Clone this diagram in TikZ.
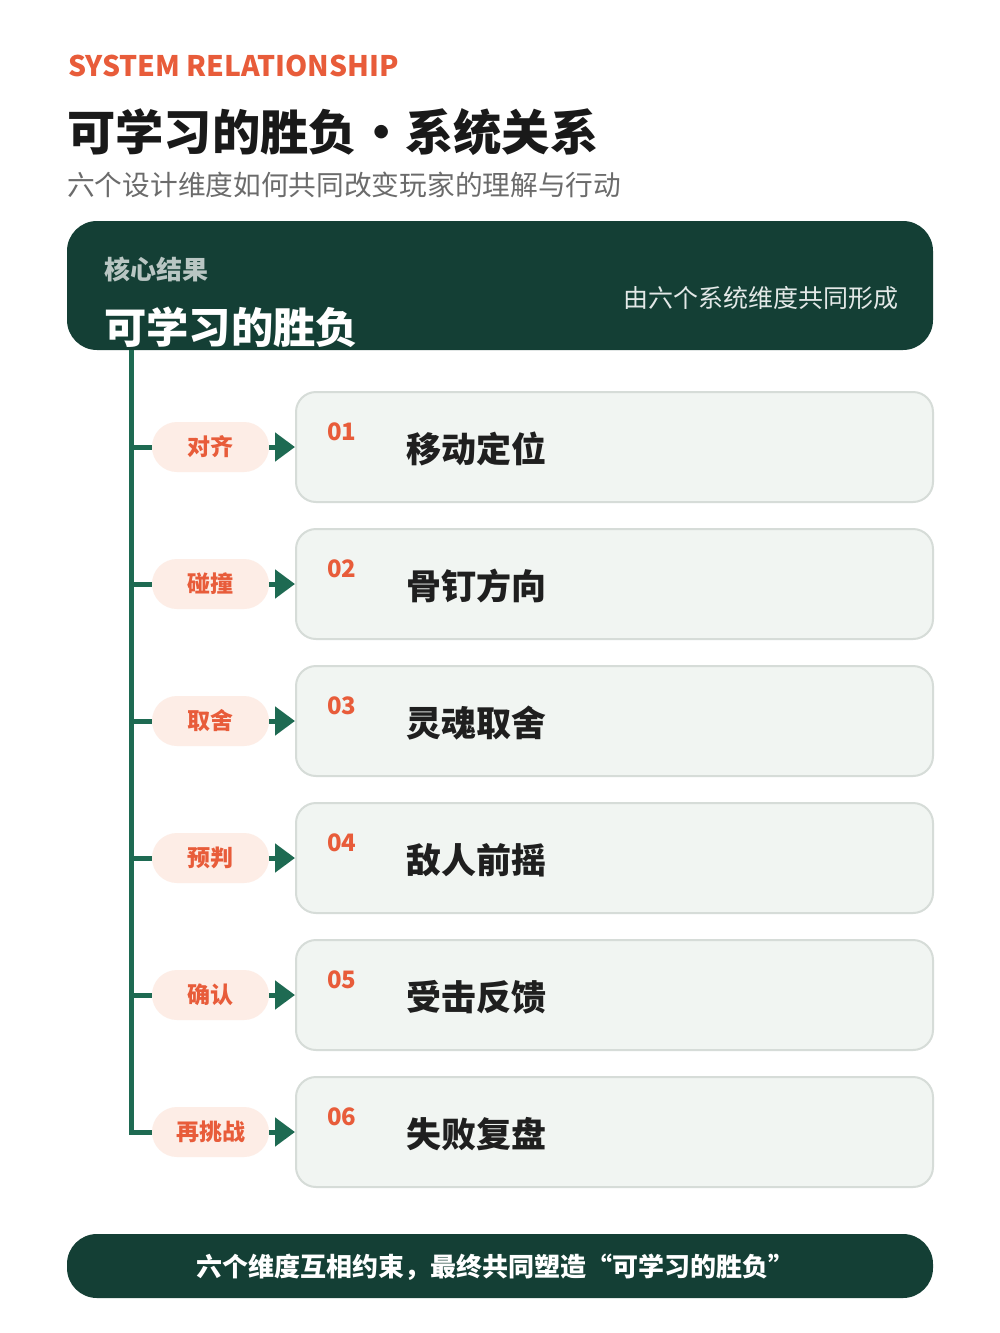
\documentclass[tikz,border=0pt]{standalone}
\usepackage{fontspec}
\setmainfont{Noto Sans CJK SC}
\usepackage{tikz}
\usetikzlibrary{arrows.meta}
\definecolor{tanne}{RGB}{20,63,53}
\definecolor{ast}{RGB}{30,106,82}
\definecolor{ziegel}{RGB}{232,92,58}
\definecolor{pfirsich}{RGB}{253,237,230}
\definecolor{karte}{RGB}{241,245,242}
\definecolor{kante}{RGB}{214,220,216}
\definecolor{grau}{RGB}{107,107,107}
\colorlet{tanne-lighter}{tanne!22!white}

\tikzset{
  tag/.style={rectangle, rounded corners=25pt, fill=pfirsich, minimum width=117pt, minimum height=50pt, inner sep=0pt, text=ziegel, font=\fontsize{23}{26}\selectfont\bfseries},
  card/.style={rectangle, rounded corners=20pt, fill=karte, draw=kante, line width=2pt, minimum width=637pt, minimum height=110pt, inner sep=0pt},
  num/.style={anchor=west, inner sep=0pt, text=ziegel, font=\fontsize{24}{26}\selectfont\bfseries},
  item/.style={anchor=west, inner sep=0pt, text=black!88, font=\fontsize{35}{38}\selectfont\bfseries},
  branch/.style={draw=ast, line width=5pt},
  link/.style={draw=ast, line width=5pt, -{Triangle[length=20pt,width=28pt]}},
}

\begin{document}
\begin{tikzpicture}[x=1pt, y=-1pt]

    \useasboundingbox[fill=white] (0,0) rectangle (1000,1333);

    % Kopf
    \node[anchor=west, inner sep=0pt, text=ziegel, font=\fontsize{28.3}{30}\selectfont\bfseries] (kicker) at (68,66) {SYSTEM RELATIONSHIP};
    \node[anchor=west, inner sep=0pt, text=black!90, font=\fontsize{48.3}{52}\selectfont\bfseries] (titel) at (67,132) {可学习的胜负・系统关系};
    \node[anchor=west, inner sep=0pt, text=grau, font=\fontsize{27.7}{30}\selectfont] (untertitel) at (67,185) {六个设计维度如何共同改变玩家的理解与行动};

    % Kernergebnis
    \node[rectangle, rounded corners=30pt, fill=tanne, minimum width=866pt, minimum height=129pt, inner sep=0pt] (kern) at (500,285.5) {};
    \node[anchor=west, inner sep=0pt, text=tanne-lighter!90!tanne, font=\fontsize{26}{28}\selectfont\bfseries] (kernlabel) at (104,269) {核心结果};
    \node[anchor=west, inner sep=0pt, text=white, font=\fontsize{42.3}{46}\selectfont\bfseries] (kerntitel) at (104,327) {可学习的胜负};
    \node[anchor=east, inner sep=0pt, text=white!88!tanne, font=\fontsize{25}{28}\selectfont] (kernnote) at (899,298) {由六个系统维度共同形成};

    \coordinate (wurzel) at (131,350);

    \begin{scope}[shift={(0,447)}]
        \node[tag] (t1) at (210.5,0) {对齐};
        \node[card] (c1) at (614.5,0) {};
        \node[num] at (327,-15) {01};
        \node[item] at (406,2) {移动定位};
        \coordinate (b1) at (131,0);
        \draw[branch] (b1) -- (t1);
        \draw[link] (t1) -- (c1);
    \end{scope}

    \begin{scope}[shift={(0,584)}]
        \node[tag] (t2) at (210.5,0) {碰撞};
        \node[card] (c2) at (614.5,0) {};
        \node[num] at (327,-15) {02};
        \node[item] at (406,2) {骨钉方向};
        \coordinate (b2) at (131,0);
        \draw[branch] (b2) -- (t2);
        \draw[link] (t2) -- (c2);
    \end{scope}

    \begin{scope}[shift={(0,721)}]
        \node[tag] (t3) at (210.5,0) {取舍};
        \node[card] (c3) at (614.5,0) {};
        \node[num] at (327,-15) {03};
        \node[item] at (406,2) {灵魂取舍};
        \coordinate (b3) at (131,0);
        \draw[branch] (b3) -- (t3);
        \draw[link] (t3) -- (c3);
    \end{scope}

    \begin{scope}[shift={(0,858)}]
        \node[tag] (t4) at (210.5,0) {预判};
        \node[card] (c4) at (614.5,0) {};
        \node[num] at (327,-15) {04};
        \node[item] at (406,2) {敌人前摇};
        \coordinate (b4) at (131,0);
        \draw[branch] (b4) -- (t4);
        \draw[link] (t4) -- (c4);
    \end{scope}

    \begin{scope}[shift={(0,995)}]
        \node[tag] (t5) at (210.5,0) {确认};
        \node[card] (c5) at (614.5,0) {};
        \node[num] at (327,-15) {05};
        \node[item] at (406,2) {受击反馈};
        \coordinate (b5) at (131,0);
        \draw[branch] (b5) -- (t5);
        \draw[link] (t5) -- (c5);
    \end{scope}

    \begin{scope}[shift={(0,1132)}]
        \node[tag] (t6) at (210.5,0) {再挑战};
        \node[card] (c6) at (614.5,0) {};
        \node[num] at (327,-15) {06};
        \node[item] at (406,2) {失败复盘};
        \draw[link] (t6) -- (c6);
    \end{scope}

    % Stamm
    \draw[branch] (wurzel) |- (t6);

    % Fuss
    \node[rectangle, rounded corners=30pt, fill=tanne, minimum width=866pt, minimum height=64pt, inner sep=0pt] (fuss) at (500,1266) {};
    \node[inner sep=0pt, text=white, font=\fontsize{26}{28}\selectfont\bfseries] (fusstext) at (495,1267) {六个维度互相约束，最终共同塑造“可学习的胜负”};

\end{tikzpicture}
\end{document}
